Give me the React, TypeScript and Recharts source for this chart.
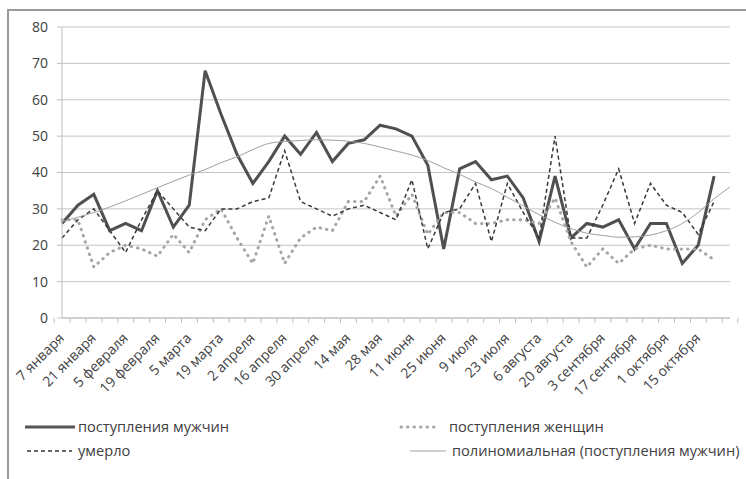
import React from 'react';
import { LineChart, Line, XAxis, YAxis, CartesianGrid } from 'recharts';

// weekly categories; only every second one is labelled on the axis
const dates = [
  '7 января', '14 января', '21 января', '28 января', '5 февраля', '12 февраля',
  '19 февраля', '26 февраля', '5 марта', '12 марта', '19 марта', '26 марта',
  '2 апреля', '9 апреля', '16 апреля', '23 апреля', '30 апреля', '7 мая',
  '14 мая', '21 мая', '28 мая', '4 июня', '11 июня', '18 июня',
  '25 июня', '2 июля', '9 июля', '16 июля', '23 июля', '30 июля',
  '6 августа', '13 августа', '20 августа', '27 августа', '3 сентября', '10 сентября',
  '17 сентября', '24 сентября', '1 октября', '8 октября', '15 октября', '22 октября',
  '',
];

const men = [
  26, 31, 34, 24, 26, 24, 35, 25, 31, 68,
  56, 45, 37, 43, 50, 45, 51, 43, 48, 49,
  53, 52, 50, 42, 19, 41, 43, 38, 39, 33,
  21, 39, 22, 26, 25, 27, 19, 26, 26, 15,
  20, 39,
];

const women = [
  27, 27, 14, 18, 20, 19, 17, 23, 18, 27,
  30, 22, 15, 28, 15, 22, 25, 24, 32, 32,
  39, 28, 34, 23, 29, 29, 26, 26, 27, 27,
  26, 33, 21, 14, 19, 15, 19, 20, 19, 19,
  19, 16,
];

const died = [
  22, 27, 30, 24, 18, 27, 35, 30, 25, 24,
  30, 30, 32, 33, 46, 32, 30, 28, 30, 31,
  29, 27, 38, 19, 29, 30, 37, 21, 37, 29,
  22, 50, 22, 22, 31, 41, 26, 37, 31, 29,
  23, 32,
];

// polynomial trend of the men series (one period forecast)
const trend = [
  26.5, 27.7, 29, 30.5, 32.2, 34, 35.8, 37.6, 39.3, 40.8,
  42.7, 44.3, 46.3, 48, 48.5, 48.8, 49, 48.9, 48.6, 48,
  47, 45.9, 44.8, 43.3, 41.3, 39.5, 37.4, 35.6, 33.2, 30.8,
  28.4, 26.3, 24.6, 23.3, 22.7, 22.2, 22.3, 22.8, 24, 26,
  29, 32.8, 36,
];

const yTicks = [0, 10, 20, 30, 40, 50, 60, 70, 80];

const data = dates.map((date, i) => ({
  date,
  men: men[i] ?? null,
  women: women[i] ?? null,
  died: died[i] ?? null,
  trend: trend[i] ?? null,
}));

const FONT = '"Open Sans", "Noto Sans", sans-serif';
const TEXT = '#404040';
const AXIS = '#bfbfbf';
const HALF_BAND = 7.77;

const DateTick = (props: any) => {
  const { x, y, payload } = props;
  const i = dates.indexOf(payload.value);
  const ax = x + 3;
  const ay = y + 21;
  return (
    <g>
      <line x1={x - HALF_BAND} x2={x - HALF_BAND} y1={y} y2={y + 5} stroke={AXIS} />
      {i === dates.length - 1 && (
        <line x1={x + HALF_BAND} x2={x + HALF_BAND} y1={y} y2={y + 5} stroke={AXIS} />
      )}
      {i % 2 === 0 && payload.value && (
        <text
          x={ax}
          y={ay}
          textAnchor="end"
          transform={`rotate(-45 ${ax} ${ay})`}
          fontFamily={FONT}
          fontSize={14}
          fill={TEXT}
        >
          {payload.value}
        </text>
      )}
    </g>
  );
};

const Legend = () => (
  <svg width={746} height={479} style={{ position: 'absolute', left: 0, top: 0, pointerEvents: 'none' }}>
    <line x1={25} x2={75} y1={427} y2={427} stroke="#555" strokeWidth={3} />
    <text x={78} y={432} fontFamily={FONT} fontSize={14.6} fill={TEXT}>поступления мужчин</text>
    <line x1={27} x2={72} y1={451} y2={451} stroke="#383838" strokeWidth={1.5} strokeDasharray="4 3" />
    <text x={78} y={456} fontFamily={FONT} fontSize={14.6} fill={TEXT}>умерло</text>
    <line x1={401} x2={439} y1={427} y2={427} stroke="#a6a6a6" strokeWidth={3} strokeDasharray="0.5 6" strokeLinecap="round" />
    <text x={449} y={432} fontFamily={FONT} fontSize={14.6} fill={TEXT}>поступления женщин</text>
    <line x1={410} x2={446} y1={451} y2={451} stroke="#a0a0a0" strokeWidth={1} />
    <text x={452} y={456} fontFamily={FONT} fontSize={14.6} fill={TEXT}>полиномиальная (поступления мужчин)</text>
  </svg>
);

export default function App() {
  return (
    <div style={{ position: 'absolute', left: 0, top: 0, width: 746, height: 479, background: '#fff', overflow: 'hidden' }}>
      <div
        style={{
          position: 'absolute', left: 7, top: 9, right: 0, bottom: 0,
          borderTop: '2px solid #9a9a9a', borderLeft: '2px solid #9a9a9a',
        }}
      />
      <LineChart
        width={746}
        height={479}
        data={data}
        margin={{ top: 27, right: 16, bottom: 0, left: 0 }}
      >
        <CartesianGrid vertical={false} stroke="#c4c4c4" />
        <XAxis
          dataKey="date"
          interval={0}
          height={161}
          tickLine={false}
          tickSize={0}
          tickMargin={0}
          axisLine={{ stroke: AXIS }}
          tick={<DateTick />}
        />
        <YAxis
          width={62}
          domain={[0, 80]}
          ticks={yTicks}
          interval={0}
          tickSize={5}
          tickMargin={9}
          tickLine={{ stroke: AXIS }}
          axisLine={{ stroke: AXIS }}
          tick={{ fontFamily: FONT, fontSize: 14, fill: TEXT }}
        />
        <Line dataKey="men" stroke="#505050" strokeWidth={3} dot={false} isAnimationActive={false} />
        <Line dataKey="women" stroke="#a6a6a6" strokeWidth={3} strokeDasharray="0.5 6" strokeLinecap="round" dot={false} isAnimationActive={false} />
        <Line dataKey="died" stroke="#383838" strokeWidth={1.5} strokeDasharray="4 3" dot={false} isAnimationActive={false} />
        <Line dataKey="trend" type="monotone" stroke="#a0a0a0" strokeWidth={1} dot={false} isAnimationActive={false} />
      </LineChart>
      <Legend />
    </div>
  );
}
